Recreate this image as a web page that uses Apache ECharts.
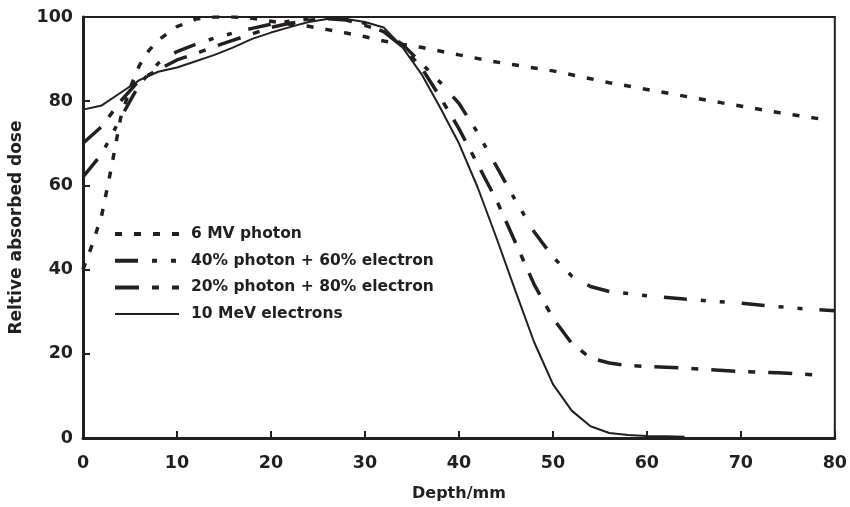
<!DOCTYPE html>
<html>
<head>
<meta charset="utf-8">
<script src="https://cdn.jsdelivr.net/npm/echarts@6/dist/echarts.min.js"></script>
<style>
html,body{margin:0;padding:0;background:#fff;}
#c{width:850px;height:507px;}
</style>
</head>
<body>
<div id="c"></div>
<script>
var seriesNames = ['6 MV photon', '40% photon + 60% electron', '20% photon + 80% electron', '10 MeV electrons'];

var depth6 = [0,1,2,3,4,5,6,7,8,10,12,14,16,18,20,22,24,26,28,30,32,34,36,40,44,50,56,62,68,74,79];
var dose6  = [40,46,53,64,76,83,88.5,92,94.5,97.7,99.5,100,100,99.7,99,98.3,97.8,97,96.2,95.3,94.3,93.5,92.8,91,89.3,87.2,84.4,82,79.6,77.3,75.6];

var depth40 = [0,2,4,6,8,10,12,14,16,18,20,22,24,26,28,30,32,34,36,38,40,42,44,46,48,50,52,54,56,60,64,70,76,80];
var dose40  = [62,67.5,76,84,89,91.8,93.5,95,96.2,97.3,98.3,99,99.5,99.8,99.6,98.5,96.5,93.5,89,84.5,79.5,72.5,64.5,56.5,49,43,38.5,36,34.8,33.8,33,32,30.8,30.2];

var depth20 = [0,2,4,6,8,10,12,14,16,18,20,22,24,26,28,30,32,34,36,38,40,42,44,46,48,50,52,54,56,58,60,64,70,74,78];
var dose20  = [70,74,80,85,87.5,89.8,91.3,93,94.5,96,97.5,98.5,99.2,99.6,99.3,98,96.5,93,88,81,73.5,65,56.5,46.5,36.5,28.5,22.5,19,17.8,17.2,17,16.6,15.8,15.5,15];

var depthE = [0,2,4,6,8,10,12,14,16,18,20,22,24,26,28,30,32,34,36,38,40,42,44,46,48,50,52,54,56,58,60,62,64];
var doseE  = [78,79,82,85,87,88,89.5,91,92.8,94.8,96.3,97.6,98.8,99.5,99.5,98.8,97.5,92.8,86.5,78.5,70,59.5,47.5,35,22.8,12.8,6.5,2.8,1.2,0.7,0.5,0.4,0.3];

var xTicks = [0,10,20,30,40,50,60,70,80];
var yTicks = [0,20,40,60,80,100];

function zip(xs, ys){ return xs.map(function(x,i){ return [x, ys[i]]; }); }

var ink = '#231f20';
var font = "'DejaVu Sans', sans-serif";

var chart = echarts.init(document.getElementById('c'), null, {renderer:'canvas'});
chart.setOption({
  animation:false,
  backgroundColor:'#fff',
  grid:{left:83, right:14, top:17, bottom:66, show:true, borderColor:ink, borderWidth:2, backgroundColor:'transparent'},
  legend:{
    orient:'vertical', left:108, top:221, itemWidth:64, itemHeight:14, itemGap:10.7,
    itemStyle:{opacity:0},
    textStyle:{color:ink, fontFamily:font, fontWeight:'bold', fontSize:15.5, padding:[0,0,0,7]},
    data:[
      {name:seriesNames[0], lineStyle:{width:4}},
      {name:seriesNames[1], lineStyle:{width:4}},
      {name:seriesNames[2], lineStyle:{width:4}},
      {name:seriesNames[3], lineStyle:{width:2}}
    ]
  },
  xAxis:{
    type:'value', min:0, max:80, interval:10,
    name:'Depth/mm', nameLocation:'middle', nameGap:48,
    nameTextStyle:{color:ink, fontFamily:font, fontWeight:'bold', fontSize:16},
    axisLine:{lineStyle:{color:ink, width:3}},
    axisTick:{inside:true, length:7, lineStyle:{color:ink, width:2}},
    axisLabel:{color:ink, fontFamily:font, fontWeight:'bold', fontSize:17.5, margin:16,
      formatter:function(v){ return xTicks.indexOf(v)>=0 ? String(v) : ''; }},
    splitLine:{show:false}
  },
  yAxis:{
    type:'value', min:0, max:100, interval:20,
    name:'Reltive absorbed dose', nameLocation:'middle', nameGap:54,
    nameTextStyle:{color:ink, fontFamily:font, fontWeight:'bold', fontSize:17},
    axisLine:{show:true, lineStyle:{color:ink, width:3}},
    axisTick:{show:true, inside:true, length:7, lineStyle:{color:ink, width:2}},
    axisLabel:{color:ink, fontFamily:font, fontWeight:'bold', fontSize:17.5, margin:10,
      formatter:function(v){ return yTicks.indexOf(v)>=0 ? String(v) : ''; }},
    splitLine:{show:false}
  },
  series:[
    {name:seriesNames[0], type:'line', symbol:'none', data:zip(depth6, dose6),
     lineStyle:{color:ink, width:3.5, type:[7,12], cap:'butt'}, itemStyle:{color:ink}},
    {name:seriesNames[1], type:'line', symbol:'none', data:zip(depth40, dose40),
     lineStyle:{color:ink, width:3.5, type:[23,14,5,14,5,17], cap:'butt'}, itemStyle:{color:ink}},
    {name:seriesNames[2], type:'line', symbol:'none', data:zip(depth20, dose20),
     lineStyle:{color:ink, width:3.5, type:[24,13,7,13], cap:'butt'}, itemStyle:{color:ink}},
    {name:seriesNames[3], type:'line', symbol:'none', data:zip(depthE, doseE),
     lineStyle:{color:ink, width:2, type:'solid'}, itemStyle:{color:ink}}
  ]
});
</script>
</body>
</html>
